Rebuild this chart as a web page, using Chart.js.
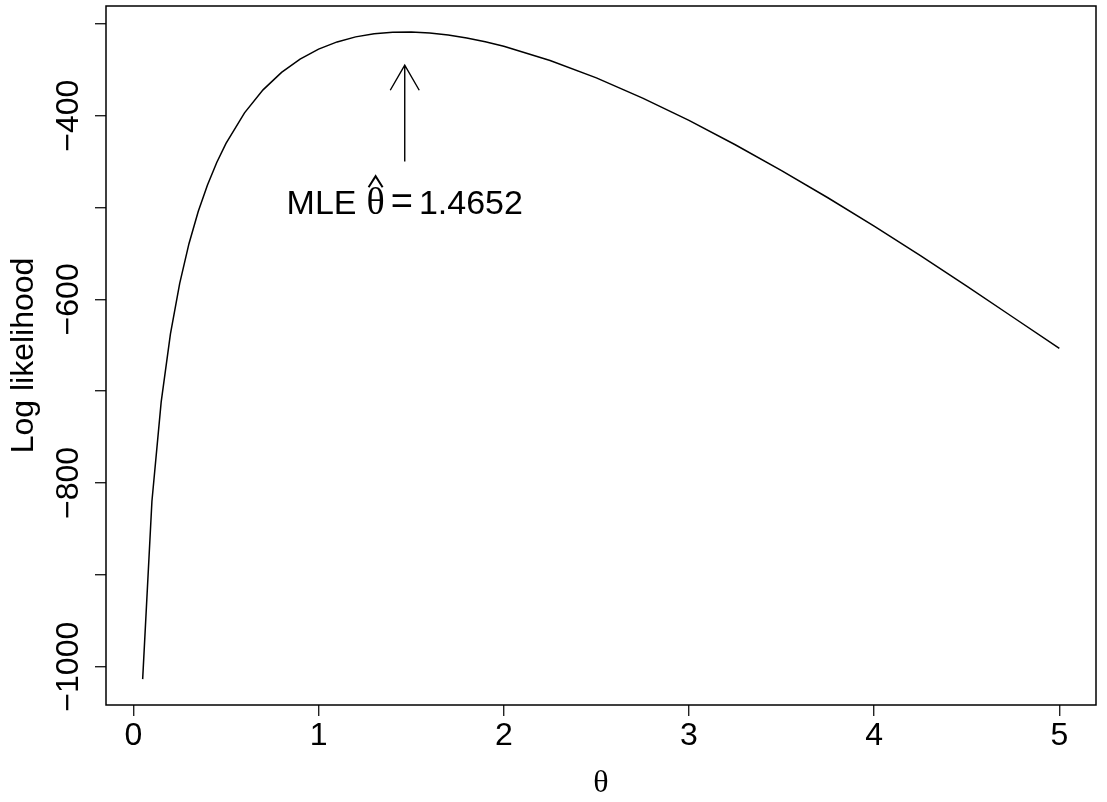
<!DOCTYPE html>
<html>
<head>
<meta charset="utf-8">
<script src="https://cdn.jsdelivr.net/npm/chart.js@4.4.1/dist/chart.umd.min.js"></script>
<style>
  html, body { margin: 0; padding: 0; background: #ffffff; }
  #wrap { width: 1107px; height: 802px; position: relative; }
</style>
</head>
<body>
<div id="wrap"><canvas id="c"></canvas></div>
<script>
// ---- data ----
const theta = [0.05, 0.10, 0.15, 0.20, 0.25, 0.30, 0.35, 0.40, 0.45, 0.50,
               0.60, 0.70, 0.80, 0.90, 1.00, 1.10, 1.20, 1.30, 1.40, 1.50,
               1.60, 1.70, 1.80, 1.90, 2.00, 2.25, 2.50, 2.75, 3.00, 3.25,
               3.50, 3.75, 4.00, 4.25, 4.50, 4.75, 5.00];
const logLik = [-1013.5, -819.9, -711.7, -637.7, -582.6, -539.4, -504.4, -475.4, -451.0, -430.2,
                -397.0, -371.9, -352.9, -338.4, -327.6, -319.7, -314.2, -310.8, -309.1, -308.9,
                -310.0, -312.2, -315.4, -319.5, -324.5, -339.9, -358.9, -380.9, -405.2, -431.7,
                -459.8, -489.4, -520.4, -552.4, -585.5, -619.5, -653.5];
const xTicks = [0, 1, 2, 3, 4, 5];
const yTicks = [-1000, -900, -800, -700, -600, -500, -400, -300];
const yLabelledTicks = [-1000, -800, -600, -400];
const xTitle = 'θ';
const yTitle = 'Log likelihood';
const xLimits = [-0.148, 5.198];
const yLimits = [-1041.7, -280.6];
// annotation (data units)
const mleTheta = 1.4652;
const mleLabel = '1.4652';
const arrowFromY = -450;
const arrowToY = -345;
const noteY = -494;

const SANS = '"Liberation Sans", Arial, Helvetica, sans-serif';
const SERIF = '"Liberation Serif", "Times New Roman", serif';
const FS = 32;
const NOTE_FS = 34;

const minus = v => String(v).replace('-', '\u2212');

const boxAndNote = {
  id: 'boxAndNote',
  afterDraw(chart) {
    const { ctx, chartArea: a, scales: { x, y } } = chart;
    ctx.save();
    ctx.strokeStyle = '#000';
    ctx.lineWidth = 1.5;
    ctx.strokeRect(a.left, a.top, a.right - a.left, a.bottom - a.top);

    // arrow
    const px = x.getPixelForValue(mleTheta);
    const y0 = y.getPixelForValue(arrowFromY);
    const y1 = y.getPixelForValue(arrowToY);
    const L = 29, ang = Math.PI / 6;
    ctx.lineWidth = 1.4;
    ctx.beginPath();
    ctx.moveTo(px, y0); ctx.lineTo(px, y1);
    ctx.moveTo(px - L * Math.sin(ang), y1 + L * Math.cos(ang));
    ctx.lineTo(px, y1);
    ctx.lineTo(px + L * Math.sin(ang), y1 + L * Math.cos(ang));
    ctx.stroke();

    // label: MLE θ̂ = 1.4652
    const parts = [
      { t: 'MLE', f: `${NOTE_FS}px ${SANS}`, gap: 10 },
      { t: 'θ', f: `${NOTE_FS + 4}px ${SERIF}`, hat: true, gap: 6 },
      { t: '=', f: `${NOTE_FS + 4}px ${SANS}`, gap: 6 },
      { t: mleLabel, f: `${NOTE_FS}px ${SANS}`, gap: 0 }
    ];
    let total = 0;
    parts.forEach(p => { ctx.font = p.f; p.w = ctx.measureText(p.t).width; total += p.w + p.gap; });
    const base = y.getPixelForValue(noteY) + 0.36 * NOTE_FS;
    let cx = px - total / 2;
    ctx.fillStyle = '#000';
    ctx.textAlign = 'left';
    ctx.textBaseline = 'alphabetic';
    parts.forEach(p => {
      ctx.font = p.f;
      ctx.fillText(p.t, cx, base);
      if (p.hat) {
        const hc = cx + p.w / 2;
        ctx.lineWidth = 2;
        ctx.beginPath();
        ctx.moveTo(hc - 7, base - 27);
        ctx.lineTo(hc, base - 38);
        ctx.lineTo(hc + 7, base - 27);
        ctx.stroke();
      }
      cx += p.w + p.gap;
    });
    ctx.restore();
  }
};

new Chart(document.getElementById('c'), {
  type: 'line',
  data: {
    datasets: [{
      data: theta.map((t, i) => ({ x: t, y: logLik[i] })),
      borderColor: '#000',
      borderWidth: 1.5,
      pointRadius: 0,
      tension: 0,
      fill: false
    }]
  },
  options: {
    responsive: true,
    maintainAspectRatio: false,
    animation: false,
    events: [],
    layout: { padding: { top: 6, right: 11, left: 0, bottom: 0 } },
    plugins: { legend: { display: false }, tooltip: { enabled: false }, title: { display: false } },
    scales: {
      x: {
        type: 'linear',
        min: xLimits[0],
        max: xLimits[1],
        afterBuildTicks: s => { s.ticks = xTicks.map(v => ({ value: v })); },
        afterFit: s => { s.height = 97; },
        grid: { display: true, drawOnChartArea: false, drawTicks: true, tickLength: 11, color: '#222', lineWidth: 1.4 },
        border: { display: false },
        ticks: {
          autoSkip: false, maxRotation: 0, minRotation: 0,
          color: '#000', padding: 1,
          font: { family: SANS, size: FS },
          callback: v => minus(v)
        },
        title: {
          display: true, text: xTitle, color: '#000',
          font: { family: SERIF, size: FS, lineHeight: 1 },
          padding: { top: 0, bottom: 2 }
        }
      },
      y: {
        type: 'linear',
        min: yLimits[0],
        max: yLimits[1],
        afterBuildTicks: s => { s.ticks = yTicks.map(v => ({ value: v })); },
        afterFit: s => { s.width = 106; },
        grid: { display: true, drawOnChartArea: false, drawTicks: true, tickLength: 11, color: '#222', lineWidth: 1.4 },
        border: { display: false },
        ticks: {
          autoSkip: false, minRotation: 90, maxRotation: 90,
          crossAlign: 'center',
          color: '#000', padding: -18.8,
          font: { family: SANS, size: FS },
          callback: v => yLabelledTicks.includes(v) ? minus(v) : ''
        },
        title: {
          display: true, text: yTitle, color: '#000',
          font: { family: SANS, size: FS, lineHeight: 1 },
          padding: { top: 8, bottom: 0 }
        }
      }
    }
  },
  plugins: [boxAndNote]
});
</script>
</body>
</html>
